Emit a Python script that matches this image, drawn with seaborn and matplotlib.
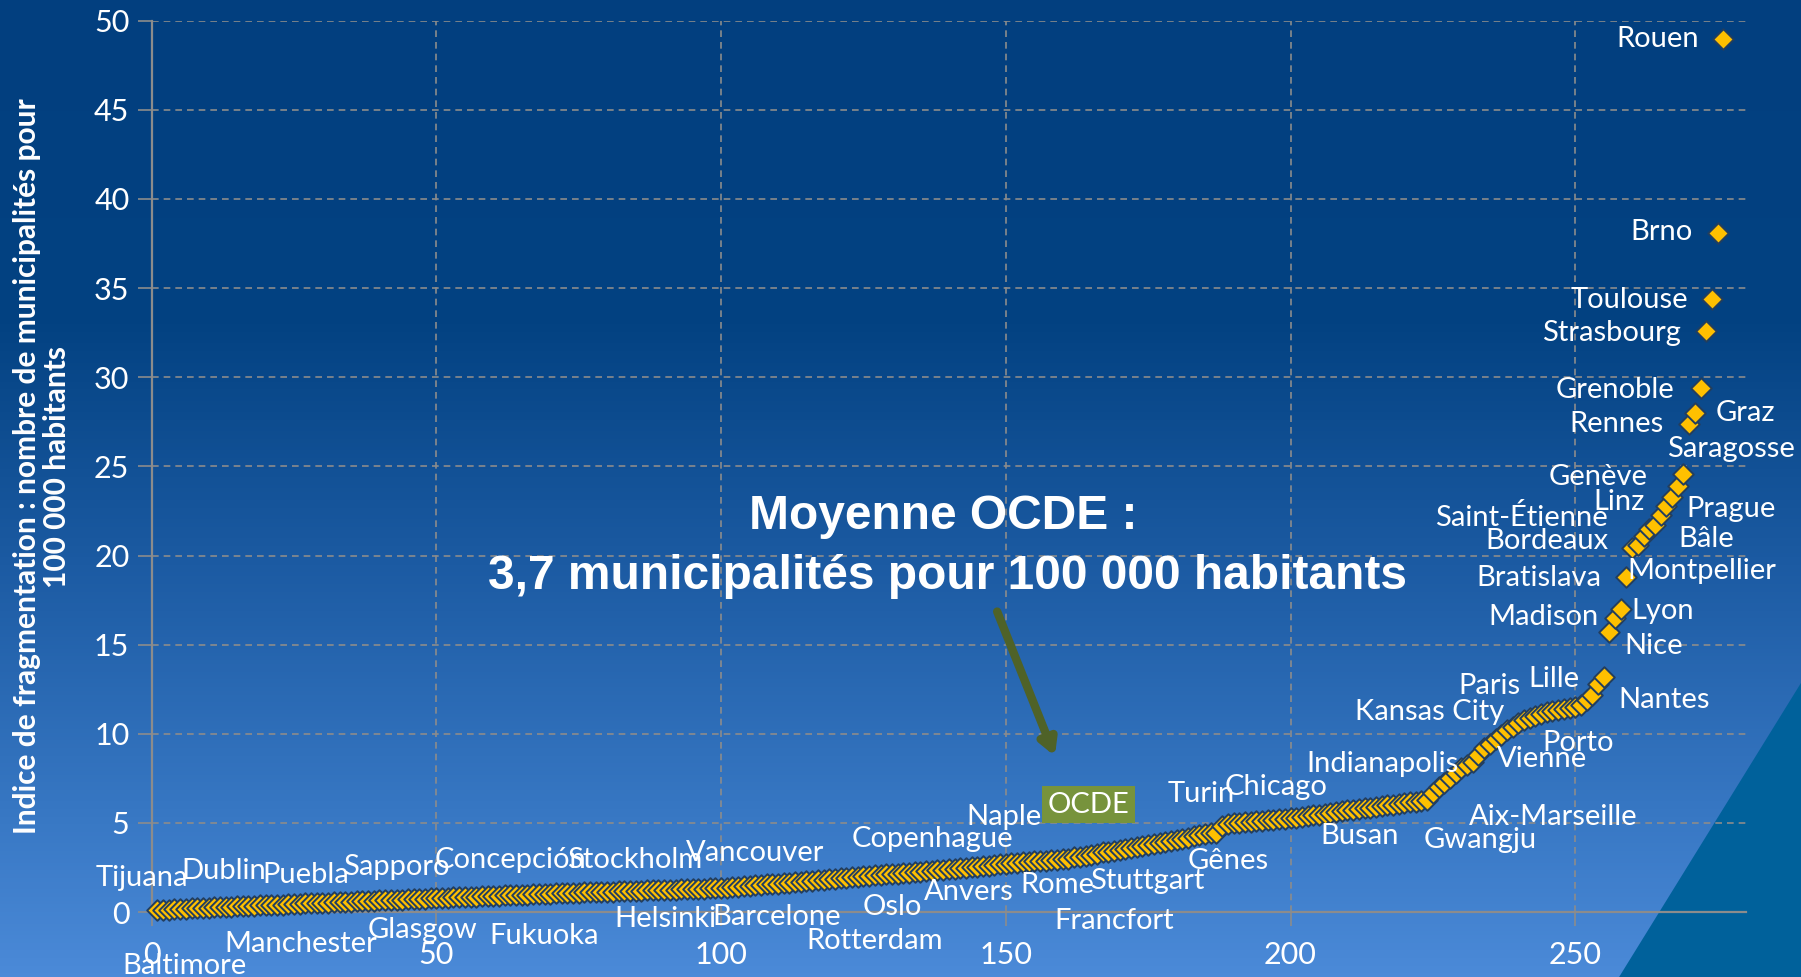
import numpy as np
import matplotlib
matplotlib.use("Agg")
import matplotlib.pyplot as plt
from matplotlib.colors import LinearSegmentedColormap
from matplotlib.patches import Polygon
import seaborn as sns

# ------------------------------------------------------------
# DONNEES : indice de fragmentation (municipalités / 100 000 hab.)
# aires métropolitaines classées par ordre croissant
# ------------------------------------------------------------
rang = list(range(1, 277))
indice = [
    0.10, 0.12, 0.14, 0.16, 0.17, 0.19, 0.20, 0.22, 0.23, 0.25,
    0.26, 0.28, 0.29, 0.31, 0.32, 0.33, 0.35, 0.36, 0.37, 0.39,
    0.40, 0.41, 0.42, 0.44, 0.45, 0.46, 0.48, 0.49, 0.50, 0.52,
    0.53, 0.54, 0.56, 0.57, 0.58, 0.60, 0.61, 0.62, 0.64, 0.65,
    0.66, 0.68, 0.69, 0.70, 0.72, 0.73, 0.74, 0.75, 0.77, 0.78,
    0.79, 0.80, 0.82, 0.83, 0.84, 0.85, 0.87, 0.88, 0.89, 0.90,
    0.91, 0.93, 0.94, 0.95, 0.96, 0.98, 0.99, 1.00, 1.01, 1.03,
    1.04, 1.05, 1.06, 1.07, 1.08, 1.10, 1.11, 1.12, 1.13, 1.14,
    1.15, 1.16, 1.17, 1.18, 1.19, 1.20, 1.21, 1.22, 1.23, 1.24,
    1.25, 1.26, 1.27, 1.28, 1.29, 1.30, 1.31, 1.32, 1.33, 1.35,
    1.37, 1.40, 1.42, 1.45, 1.47, 1.50, 1.52, 1.55, 1.57, 1.60,
    1.63, 1.65, 1.68, 1.70, 1.73, 1.76, 1.78, 1.81, 1.84, 1.87,
    1.89, 1.92, 1.95, 1.97, 2.00, 2.03, 2.05, 2.08, 2.11, 2.13,
    2.16, 2.19, 2.21, 2.24, 2.27, 2.29, 2.32, 2.35, 2.37, 2.40,
    2.43, 2.46, 2.49, 2.52, 2.55, 2.58, 2.61, 2.64, 2.67, 2.70,
    2.73, 2.76, 2.79, 2.81, 2.84, 2.86, 2.89, 2.91, 2.93, 2.95,
    3.00, 3.06, 3.11, 3.17, 3.22, 3.28, 3.34, 3.39, 3.45, 3.50,
    3.56, 3.61, 3.67, 3.72, 3.78, 3.84, 3.89, 3.95, 4.00, 4.06,
    4.12, 4.18, 4.24, 4.30, 4.36, 4.42, 4.46, 4.85, 4.93, 5.00,
    5.02, 5.05, 5.07, 5.10, 5.12, 5.15, 5.17, 5.20, 5.22, 5.25,
    5.29, 5.34, 5.38, 5.43, 5.47, 5.52, 5.56, 5.61, 5.65, 5.70,
    5.74, 5.78, 5.82, 5.86, 5.90, 5.94, 5.98, 6.02, 6.06, 6.10,
    6.15, 6.20, 6.25, 6.30, 6.65, 7.00, 7.25, 7.50, 7.80, 8.10,
    8.25, 8.40, 8.80, 9.20, 9.45, 9.70, 9.95, 10.20, 10.40, 10.60,
    10.75, 10.90, 11.00, 11.10, 11.20, 11.30, 11.35, 11.40, 11.45, 11.50,
    11.60, 11.90, 12.20, 12.80, 13.20, 15.70, 16.50, 17.00, 18.80, 20.40,
    20.60, 21.10, 21.50, 21.70, 22.30, 22.80, 23.30, 23.90, 24.60, 27.40,
    28.00, 29.40, 32.60, 34.40, 38.10, 49.00,
]

x_ticks = [0, 50, 100, 150, 200, 250]
y_ticks = [0, 5, 10, 15, 20, 25, 30, 35, 40, 45, 50]

# étiquettes des villes (nom, position du texte)
villes = [
    ("Tijuana", -1.8, 1.9), ("Baltimore", 5.8, -3.0), ("Dublin", 12.7, 2.3),
    ("Manchester", 26.2, -1.8), ("Puebla", 27.0, 2.1), ("Sapporo", 42.9, 2.5),
    ("Glasgow", 47.6, -1.0), ("Concepción", 63.1, 2.9), ("Fukuoka", 68.9, -1.35),
    ("Helsinki", 90.3, -0.4), ("Stockholm", 84.8, 2.9), ("Barcelone", 109.8, -0.3),
    ("Vancouver", 106.0, 3.3), ("Copenhague", 137.2, 4.1), ("Rotterdam", 126.9, -1.6),
    ("Oslo", 130.0, 0.26), ("Anvers", 143.5, 1.1), ("Naple", 149.7, 5.35),
    ("Rome", 159.0, 1.5), ("Francfort", 169.0, -0.5), ("Stuttgart", 174.9, 1.75),
    ("Turin", 184.4, 6.6), ("Chicago", 197.5, 7.0), ("Gênes", 189.0, 2.85),
    ("Indianapolis", 216.2, 8.3), ("Busan", 212.2, 4.25), ("Gwangju", 233.3, 4.05),
    ("Aix-Marseille", 246.2, 5.35), ("Kansas City", 224.5, 11.2), ("Paris", 234.9, 12.7),
    ("Lille", 246.2, 13.1), ("Vienne", 244.2, 8.6), ("Porto", 250.5, 9.5),
    ("Nantes", 265.6, 11.9), ("Madison", 244.4, 16.55), ("Nice", 263.8, 14.95),
    ("Lyon", 265.4, 16.9), ("Bratislava", 243.6, 18.75), ("Montpellier", 272.2, 19.15),
    ("Bordeaux", 245.0, 20.8), ("Saint-Étienne", 240.6, 22.15), ("Bâle", 273.0, 20.95),
    ("Prague", 277.3, 22.6), ("Linz", 257.7, 23.0), ("Genève", 254.1, 24.4),
    ("Saragosse", 277.3, 26.0), ("Rennes", 257.3, 27.4), ("Graz", 279.9, 28.0),
    ("Grenoble", 256.9, 29.3), ("Strasbourg", 256.3, 32.5), ("Toulouse", 259.5, 34.35),
    ("Brno", 265.2, 38.15), ("Rouen", 264.4, 49.0),
]

# ------------------------------------------------------------
# FIGURE
# ------------------------------------------------------------
plt.rcParams["font.family"] = ["Lato", "DejaVu Sans"]

fig = plt.figure(figsize=(18.01, 9.77), dpi=100)

# fond dégradé + triangle
bg = fig.add_axes([0, 0, 1, 1])
bg.set_axis_off()
fond = LinearSegmentedColormap.from_list(
    "fond",
    [(0.0, "#023f7f"), (0.33, "#034282"), (0.58, "#1c5ba3"),
     (0.82, "#3676c2"), (1.0, "#4b8ad8")],
)
bg.imshow(np.linspace(0, 1, 256).reshape(-1, 1), cmap=fond, aspect="auto",
          extent=[0, 1, 0, 1])
bg.add_patch(Polygon([[1.0, 0.301], [0.899, 0.0], [1.0, 0.0]],
                     closed=True, facecolor="#00619b", edgecolor="none"))
bg.set_xlim(0, 1)
bg.set_ylim(0, 1)

ax = fig.add_axes([0.0842, 0.0665, 0.8853, 0.9123])
ax.patch.set_alpha(0)

sns.scatterplot(x=rang, y=indice, marker="D", s=110, color="#ffc000",
                edgecolor="#233e5e", linewidth=1.4, ax=ax, clip_on=False,
                zorder=3, legend=False)

ax.set_xlim(0, 280)
ax.set_ylim(0, 50)
ax.set_xticks(x_ticks)
ax.set_yticks(y_ticks)
ax.set_xlabel("")
ax.set_ylabel("")
ax.set_axisbelow(True)
ax.grid(True, color="#8c8c8c", linestyle=(0, (4, 3)), linewidth=1.2)
for side in ["top", "right"]:
    ax.spines[side].set_visible(False)
for side in ["left", "bottom"]:
    ax.spines[side].set_color("#8c8c8c")
    ax.spines[side].set_linewidth(1.6)
ax.tick_params(axis="both", color="#8c8c8c", labelcolor="white",
               length=10, width=1.2, labelsize=22)
ax.tick_params(axis="y", pad=6)
ax.tick_params(axis="x", pad=11)

fig.text(0.0235, 0.5225,
         "Indice de fragmentation : nombre de municipalités pour\n100 000 habitants",
         rotation=90, ha="center", va="center", multialignment="center",
         color="white", fontsize=21.5, fontweight="bold", linespacing=1.1)

for nom, tx, ty in villes:
    ax.text(tx, ty, nom, color="white", fontsize=21, ha="center", va="center",
            zorder=4, clip_on=False)

# moyenne OCDE
ax.text(164.5, 6.03, "OCDE", color="white", fontsize=21, ha="center",
        va="center", zorder=5,
        bbox=dict(boxstyle="square,pad=0.2", facecolor="#77933c",
                  edgecolor="none"))

titre_font = dict(color="white", fontsize=34.5, fontweight="bold",
                  family=["Liberation Sans", "DejaVu Sans"],
                  ha="center", va="center", zorder=6)
ax.text(139.0, 22.2, "Moyenne OCDE :", **titre_font)
ax.text(139.8, 18.8, "3,7 municipalités pour 100 000 habitants", **titre_font)

ax.annotate("", xy=(158.8, 8.6), xytext=(148.3, 17.0),
            arrowprops=dict(arrowstyle="-|>,head_length=0.9,head_width=0.5",
                            color="#4f6228", lw=6, capstyle="round"),
            zorder=5)

fig.savefig("out.png", dpi=100)
